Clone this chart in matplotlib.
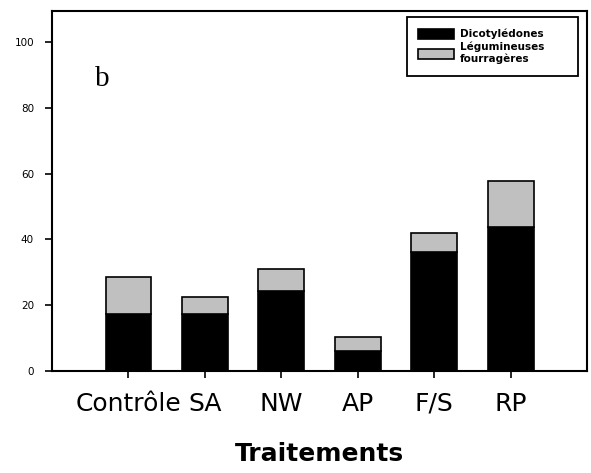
import numpy as np
import matplotlib
matplotlib.use('Agg')
import matplotlib.pyplot as plt

# data
traitements = ['Contrôle', 'SA', 'NW', 'AP', 'F/S', 'RP']
dicotyledones = [17.2, 17.2, 24.4, 6.1, 36.1, 43.9]
totaux = [28.5, 22.4, 30.9, 10.2, 42.0, 57.8]
legumineuses = [t - d for t, d in zip(totaux, dicotyledones)]
yticks = [0, 20, 40, 60, 80, 100]

fig = plt.figure(figsize=(5.91, 4.73), dpi=100)
# axes box in pixels: left 52, right 587, top 11, bottom 371
ax = fig.add_axes([52 / 591, 1 - 371 / 473, 535 / 591, 360 / 473])

x = np.arange(len(traitements))
ax.bar(x, dicotyledones, width=0.6, color='black', edgecolor='black',
       linewidth=1.2, label='Dicotylédones')
ax.bar(x, legumineuses, width=0.6, bottom=dicotyledones, color='#c0c0c0',
       edgecolor='black', linewidth=1.2, label='Légumineuses\nfourragères')

ax.set_xlim(-1, 6)
ax.set_ylim(0, 109.5)
ax.set_xticks(x)
ax.set_xticklabels(traitements, fontsize=18)
ax.set_yticks(yticks)
ax.set_yticklabels([str(v) for v in yticks], fontsize=7.5)
ax.tick_params(axis='x', length=5, width=1.2, pad=10)
ax.tick_params(axis='y', length=5, width=1.2, pad=8)
for s in ax.spines.values():
    s.set_linewidth(1.5)

ax.set_xlabel('Traitements', fontsize=18, fontweight='bold', labelpad=19)
ax.text(0.08, 0.81, 'b', transform=ax.transAxes, fontsize=21,
        family='Liberation Serif', va='center', ha='left')

leg = ax.legend(loc='upper left', bbox_to_anchor=(0.6636, 0.822, 0.3196, 0.161),
                mode='expand', prop={'size': 7.5, 'weight': 'bold'},
                fancybox=False, edgecolor='black', framealpha=1,
                handlelength=3.4, handleheight=1.1, handletextpad=0.6,
                labelspacing=0.25, borderpad=1.1, borderaxespad=0)
leg.get_frame().set_linewidth(1.3)

fig.savefig('out.png', dpi=100)
